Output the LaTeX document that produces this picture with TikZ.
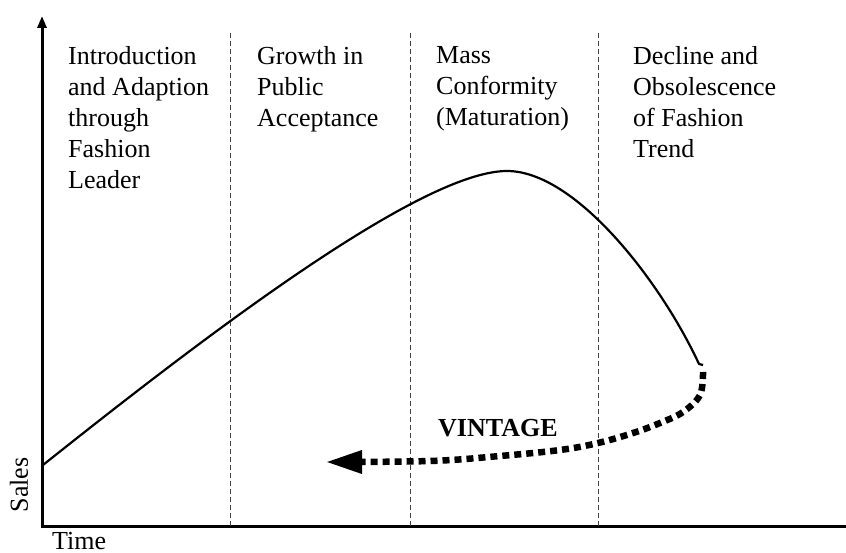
\documentclass[tikz,border=0pt]{standalone}
\usepackage{fontspec}
\setmainfont{Liberation Serif}
\usetikzlibrary{arrows.meta}
\begin{document}
\begin{tikzpicture}[x=1pt,y=-1pt,
  stagelabel/.style={anchor=north west,inner sep=0pt,align=left,
    font=\fontsize{26}{31}\selectfont},
  axislabel/.style={inner sep=0pt,font=\fontsize{26}{31}\selectfont},
  axis/.style={line width=3pt},
  divider/.style={line width=0.9pt,draw=black!75,dash pattern=on 5pt off 3pt},
  salescurve/.style={line width=2.2pt,line join=round},
  revival/.style={line width=6.5pt,dash pattern=on 7pt off 5pt,
    -{Triangle[length=36pt,width=22pt,sep=4pt]}}]
  \useasboundingbox (0,0) rectangle (846,553);

  % axes
  \coordinate (origin) at (42,526);
  \coordinate (ytop) at (42,16);
  \coordinate (xend) at (846,526);
  \draw[axis,-{Triangle[length=12pt,width=9pt]}] (origin) -- (ytop);
  \draw[axis] ([xshift=-1.5pt]origin) -- (xend);

  % stage dividers
  \foreach \x/\n in {230/da,410/db,598/dc}
    \draw[divider] (\x,33) coordinate (\n top) -- (\x,526) coordinate (\n bot);

  % stage labels
  \node[stagelabel] (intro) at (68,46) {Introduction\\and Adaption\\through\\Fashion\\Leader};
  \node[stagelabel] (growth) at (257,46) {Growth in\\Public\\Acceptance};
  \node[stagelabel] (mass) at (436,46) {Mass\\Conformity\\(Maturation)};
  \node[stagelabel] (decline) at (633,46) {Decline and\\Obsolescence\\of Fashion\\Trend};

  % axis labels
  \node[axislabel,rotate=90,anchor=center] (sales) at (19,485) {Sales};
  \node[axislabel,anchor=base west] (time) at (52,549) {Time};

  % fashion cycle curve: rise to the peak, then decline
  \coordinate (cyclestart) at (43,465);
  \coordinate (peak) at (507,171);
  \coordinate (cyclelow) at (699,364);
  \draw[salescurve] (cyclestart)
    .. controls (200,340) and (420,171) .. (peak)
    .. controls (575,171) and (660,280) .. (cyclelow)
    -- (703,365) coordinate (cycleend);

  % vintage return
  \coordinate (vstart) at (703,372);
  \coordinate (vtip) at (322,462);
  \draw[revival] plot[smooth,tension=0.6] coordinates
    {(vstart) (700,395) (683,412) (660,423) (633,433) (598,443)
     (560,450) (500,456) (430,461) (vtip)};
  \node[axislabel,anchor=base west,font=\fontsize{26}{31}\selectfont\bfseries]
    (vintage) at (438,436) {VINTAGE};
\end{tikzpicture}
\end{document}
